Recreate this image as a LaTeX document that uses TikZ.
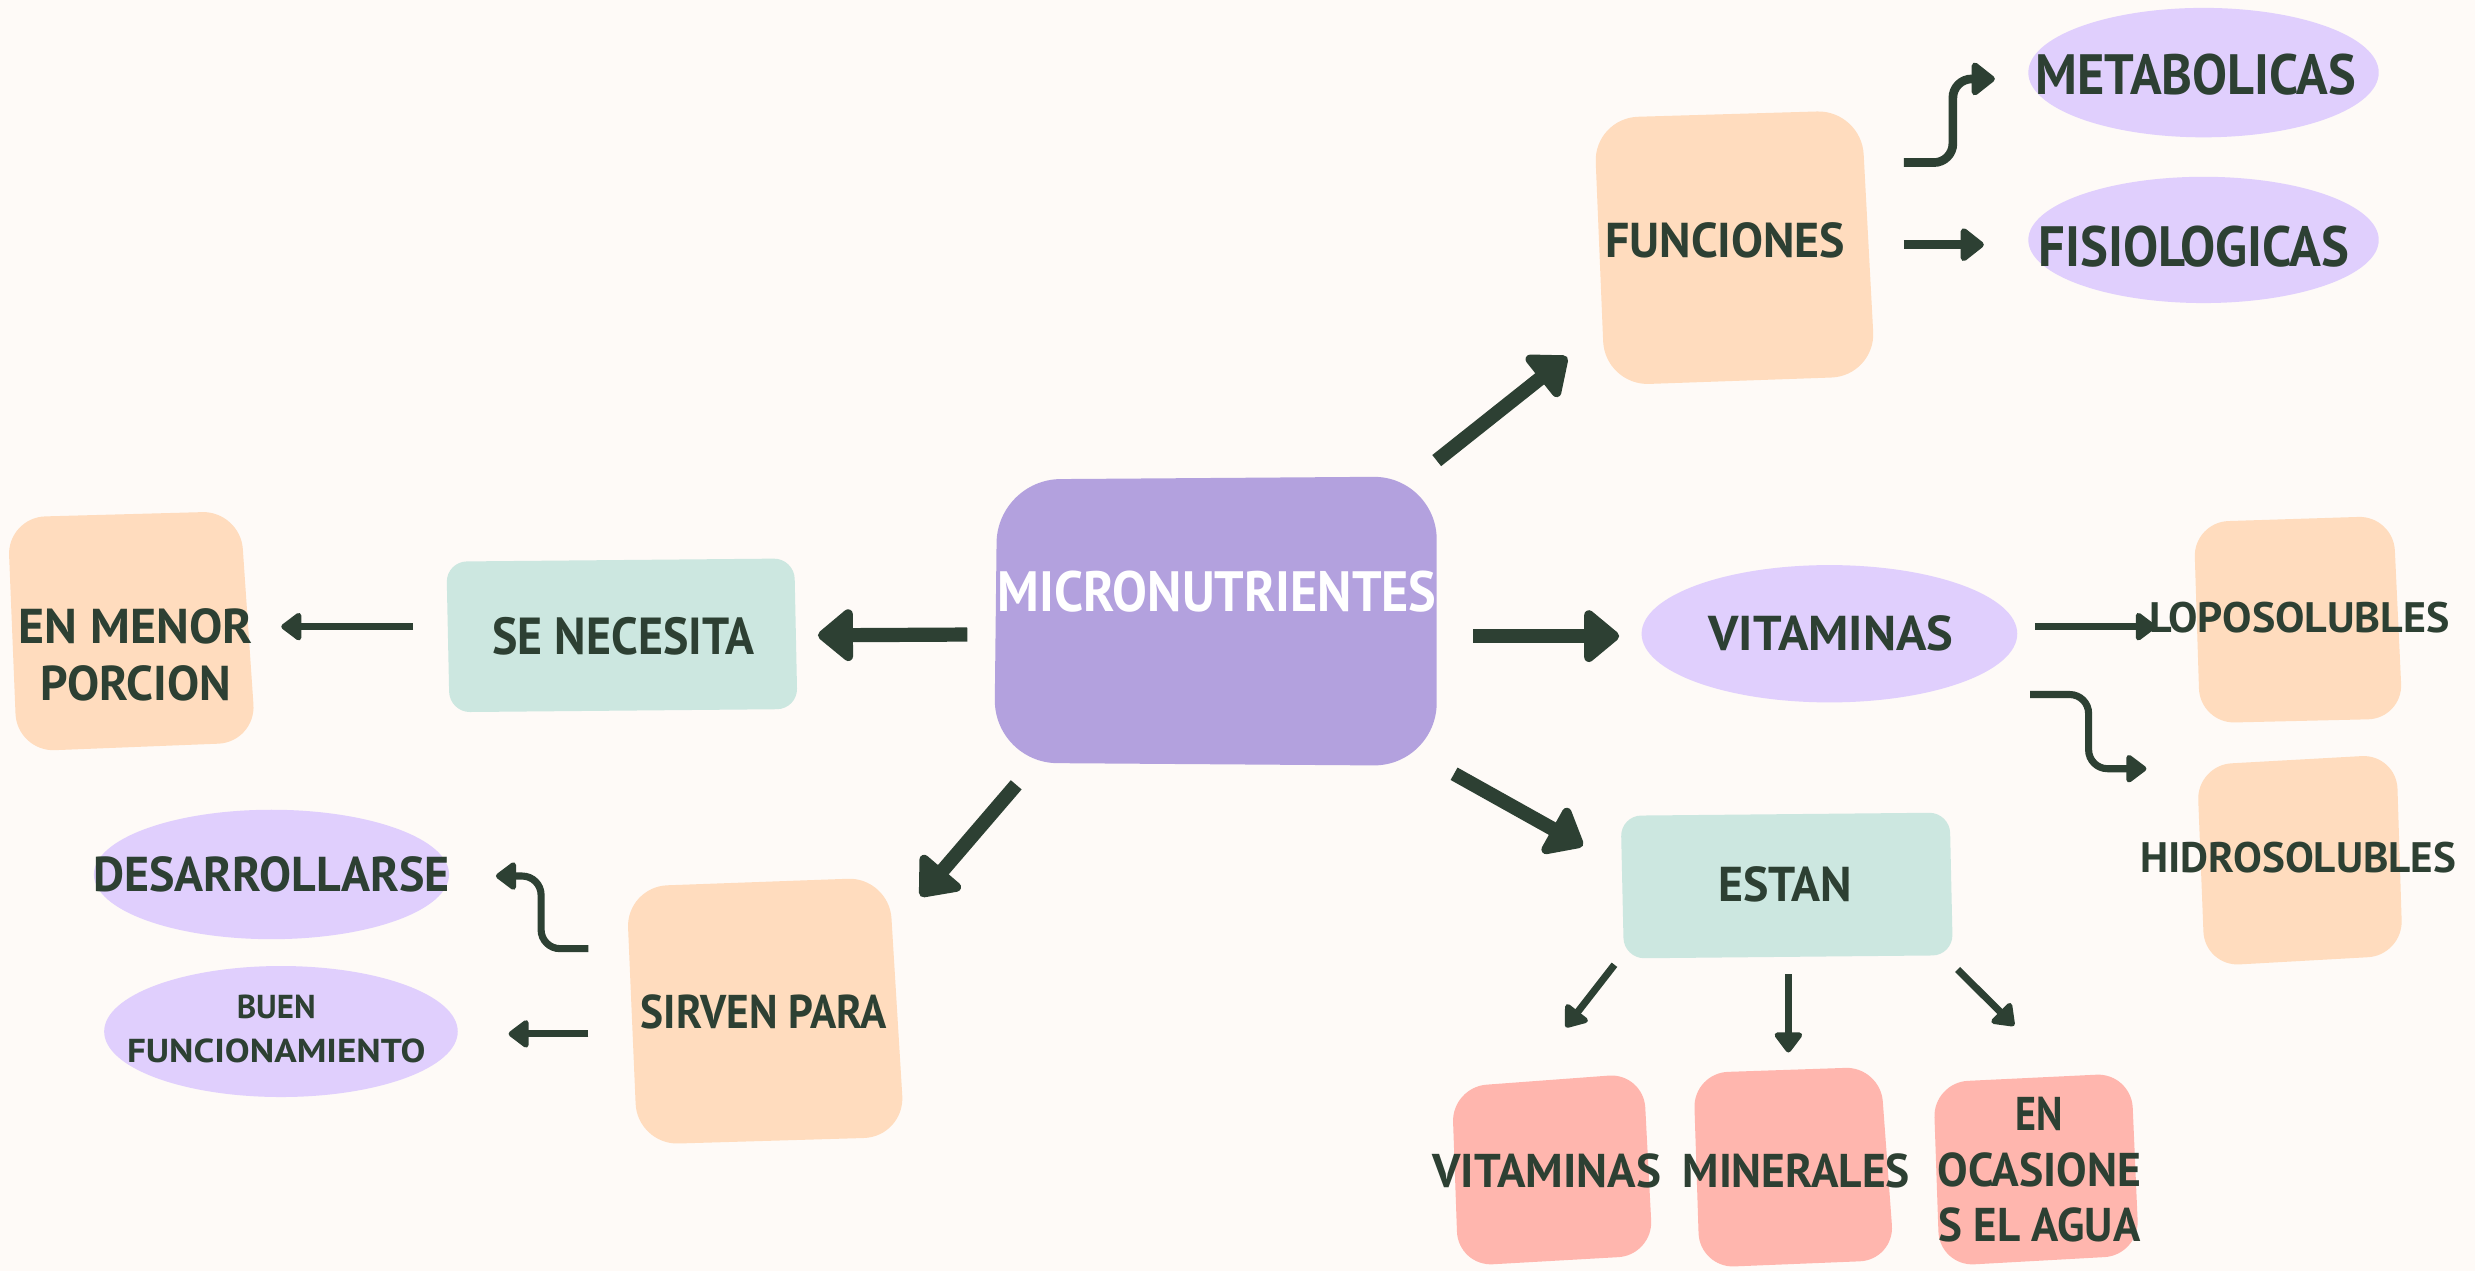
\documentclass[tikz,border=0pt]{standalone}
\usepackage{fontspec}
\setmainfont{PT Sans}
\usetikzlibrary{arrows.meta,calc,shapes.geometric}
\definecolor{bgc}{HTML}{FEFAF7}
\definecolor{ink}{HTML}{2D4033}
\definecolor{lav}{HTML}{B3A1DE}
\definecolor{lil}{HTML}{E0CFFD}
\definecolor{pch}{HTML}{FFDCBE}
\definecolor{mnt}{HTML}{CCE7E0}
\definecolor{pnk}{HTML}{FFB6AE}
\newcommand{\TT}[3]{\resizebox{#1pt}{\height}{\fontsize{#2}{#2}\bfseries #3}}
\tikzset{
  rbox/.style={rectangle, inner sep=0pt, draw=none},
  ell/.style={ellipse, inner sep=0pt, fill=lil, draw=none},
  lbl/.style={inner sep=0pt, text=ink, align=center},
  arrB/.style={draw=ink, line width=9pt, -{Triangle[round, length=24pt, width=38pt]}},
  arrM/.style={draw=ink, line width=5.5pt, -{Triangle[round, length=16pt, width=24pt]}},
  arrS/.style={draw=ink, line width=4.5pt, -{Triangle[round, length=14pt, width=20pt]}},
}
\begin{document}
\begin{tikzpicture}[x=1pt, y=-1pt]
\fill[bgc] (0,0) rectangle (1568,805);
\useasboundingbox (0,0) rectangle (1568,805);

% box nodes (outlines only; fills drawn as blobs below)
\node[rbox, minimum width=280pt, minimum height=183pt] (micro) at (770,393.5) {};
\node[rbox, minimum width=222pt, minimum height=97pt] (senec) at (394,402.5) {};
\node[rbox, minimum width=157pt, minimum height=152pt] (menor) at (83.5,400) {};
\node[rbox, minimum width=180pt, minimum height=174pt] (func) at (1098,157) {};
\node[ell, minimum width=222pt, minimum height=82pt] (meta) at (1396,46) {};
\node[ell, minimum width=222pt, minimum height=80pt] (fisio) at (1396,152) {};
\node[ell, minimum width=238pt, minimum height=87pt] (vitE) at (1159,401.5) {};
\node[rbox, minimum width=132pt, minimum height=131pt] (lopo) at (1456,392.5) {};
\node[rbox, minimum width=130pt, minimum height=134pt] (hidro) at (1457,545) {};
\node[rbox, minimum width=210pt, minimum height=92pt] (estan) at (1132,561) {};
\node[rbox, minimum width=127pt, minimum height=122pt] (vitP) at (983.5,741) {};
\node[rbox, minimum width=127pt, minimum height=127pt] (mine) at (1136.5,739.5) {};
\node[rbox, minimum width=130pt, minimum height=122pt] (ocas) at (1290,741) {};
\node[rbox, minimum width=176pt, minimum height=169pt] (sirven) at (485,640.5) {};
\node[ell, minimum width=225pt, minimum height=82pt] (desa) at (172,554) {};
\node[ell, minimum width=224pt, minimum height=83pt] (buen) at (178,653.5) {};

% blob fills
\fill[lav, rounded corners=40pt] ($(micro.north west)+(2,2)$) -- ($(micro.north east)+(0,0)$) -- ($(micro.south east)+(0,0)$) -- ($(micro.south west)+(0,-2)$) -- cycle;
\fill[mnt, rounded corners=13pt] ($(senec.north west)+(0,2)$) -- ($(senec.north east)+(-2,0)$) -- ($(senec.south east)+(0,-2)$) -- ($(senec.south west)+(2,0)$) -- cycle;
\fill[pch, rounded corners=24pt] ($(menor.north west)+(0,4)$) -- ($(menor.north east)+(-10,0)$) -- ($(menor.south east)+(0,-6)$) -- ($(menor.south west)+(6,0)$) -- cycle;
\fill[pch, rounded corners=28pt] ($(func.north west)+(2,5)$) -- ($(func.north east)+(-9,0)$) -- ($(func.south east)+(0,-6)$) -- ($(func.south west)+(9,0)$) -- cycle;
\fill[pch, rounded corners=22pt] ($(lopo.north west)+(0,4)$) -- ($(lopo.north east)+(-6,0)$) -- ($(lopo.south east)+(0,-3)$) -- ($(lopo.south west)+(4,0)$) -- cycle;
\fill[pch, rounded corners=22pt] ($(hidro.north west)+(0,7)$) -- ($(hidro.north east)+(-4,0)$) -- ($(hidro.south east)+(0,-7)$) -- ($(hidro.south west)+(5,0)$) -- cycle;
\fill[mnt, rounded corners=13pt] ($(estan.north west)+(0,2)$) -- ($(estan.north east)+(-2,0)$) -- ($(estan.south east)+(0,-2)$) -- ($(estan.south west)+(2,0)$) -- cycle;
\fill[pnk, rounded corners=22pt] ($(vitP.north west)+(0,9)$) -- ($(vitP.north east)+(-6,0)$) -- ($(vitP.south east)+(0,-7)$) -- ($(vitP.south west)+(4,0)$) -- cycle;
\fill[pnk, rounded corners=22pt] ($(mine.north west)+(0,4)$) -- ($(mine.north east)+(-9,0)$) -- ($(mine.south east)+(0,-5)$) -- ($(mine.south west)+(4,0)$) -- cycle;
\fill[pnk, rounded corners=22pt] ($(ocas.north west)+(0,6)$) -- ($(ocas.north east)+(-5,0)$) -- ($(ocas.south east)+(0,-7)$) -- ($(ocas.south west)+(4,0)$) -- cycle;
\fill[pch, rounded corners=26pt] ($(sirven.north west)+(0,6)$) -- ($(sirven.north east)+(-10,0)$) -- ($(sirven.south east)+(0,-5)$) -- ($(sirven.south west)+(7,0)$) -- cycle;

% texts
\node[lbl, text=white] (tmicro) at (771,375) {\TT{278}{36}{MICRONUTRIENTES}};
\node[lbl] (tsenec) at (395,403) {\TT{166}{33}{SE NECESITA}};
\node[lbl, font=\fontsize{20}{36}\selectfont] (tmenor) at (86,415) {\TT{148}{31}{EN MENOR}\\\TT{121}{31}{PORCION}};
\node[lbl] (tfunc) at (1093,152) {\TT{152}{31}{FUNCIONES}};
\node[lbl] (tmeta) at (1391,47) {\TT{203}{36}{METABOLICAS}};
\node[lbl] (tfisio) at (1390,156) {\TT{197}{36}{FISIOLOGICAS}};
\node[lbl] (tvitE) at (1160,401) {\TT{155}{31}{VITAMINAS}};
\node[lbl] (tlopo) at (1457,391) {\TT{190}{27}{LOPOSOLUBLES}};
\node[lbl] (thidro) at (1456,543) {\TT{200}{27}{HIDROSOLUBLES}};
\node[lbl] (testan) at (1131,560) {\TT{85}{31}{ESTAN}};
\node[lbl] (tvitP) at (980,742) {\TT{145}{30}{VITAMINAS}};
\node[lbl] (tmine) at (1138,742) {\TT{144}{30}{MINERALES}};
\node[lbl, font=\fontsize{20}{35}\selectfont] (tocas) at (1292,741) {\TT{30}{30}{EN}\\\TT{129}{30}{OCASIONE}\\\TT{128}{30}{S EL AGUA}};
\node[lbl] (tsirven) at (484,641) {\TT{156}{30}{SIRVEN PARA}};
\node[lbl] (tdesa) at (172,554) {\TT{226}{31}{DESARROLLARSE}};
\node[lbl, font=\fontsize{14}{28}\selectfont] (tbuen) at (175,652) {\TT{50}{21}{BUEN}\\\TT{189}{21}{FUNCIONAMIENTO}};

% connectors
\draw[arrB] ($(micro.west)+(-17,8.5)$) -- ($(senec.east)+(13,0)$);
\draw[arrS] ($(senec.west)+(-21,-5.5)$) -- ($(menor.east)+(16,-3)$);
\draw[arrB] ($(micro.north east)+(0,-10)$) -- ($(func.south west)+(-15,-18)$);
\draw[arrB] ($(micro.east)+(23,9.5)$) -- ($(vitE.west)+(-14,1.5)$);
\draw[arrB] ($(micro.south east)+(11,5)$) -- ($(estan.north west)+(-24,21)$);
\draw[arrB] ($(micro.south west)+(14,12)$) -- ($(sirven.north east)+(10,12)$);

\draw[arrM, rounded corners=12pt] ($(func.east)+(18,-54)$) -- ++(31,0) -- ++(0,-53) -- ($(meta.west)+(-21,4)$);
\draw[arrM] ($(func.east)+(18,-2)$) -- ($(fisio.west)+(-28,3)$);

\draw[arrS] ($(vitE.east)+(11,-4.5)$) -- ($(lopo.west)+(-24,4.5)$);
\draw[arrS, rounded corners=12pt] ($(vitE.east)+(8,38.5)$) -- ++(37,0) -- ++(0,47) -- ($(hidro.west)+(-32,-58)$);

\draw[arrS] ($(estan.south west)+(-4,4)$) -- ($(vitP.north)+(8.5,-29)$);
\draw[arrS] ($(estan.south)+(1,10)$) -- ($(mine.north)+(-3.5,-9)$);
\draw[arrS] ($(estan.south east)+(3,7)$) -- ($(ocas.north)+(-14,-30)$);

\draw[arrS, rounded corners=12pt] ($(sirven.west)+(-24,-39.5)$) -- ++(-30,0) -- ++(0,-46) -- ($(desa.east)+(29.5,1)$);
\draw[arrS] ($(sirven.west)+(-24,14.5)$) -- ($(buen.east)+(32,1.5)$);
\end{tikzpicture}
\end{document}
